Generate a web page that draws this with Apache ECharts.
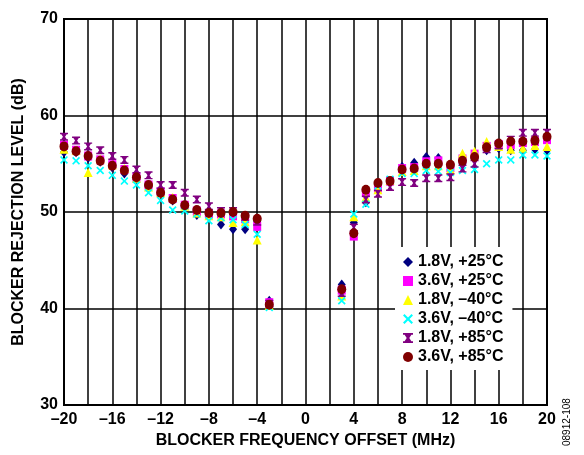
<!DOCTYPE html>
<html>
<head>
<meta charset="utf-8">
<script src="https://cdn.jsdelivr.net/npm/echarts@6/dist/echarts.min.js"></script>
<style>
  html, body { margin: 0; padding: 0; background: #fff; }
  #chart { width: 584px; height: 455px; }
</style>
</head>
<body>
<div id="chart"></div>
<script>
// Blocker frequency offsets (MHz)
const offsets = [-20,-19,-18,-17,-16,-15,-14,-13,-12,-11,-10,-9,-8,-7,-6,-5,-4,-3,
                 3,4,5,6,7,8,9,10,11,12,13,14,15,16,17,18,19,20];

// Blocker rejection level (dB) per supply/temperature condition
const v18_p25 = [56.2,56.2,55.6,55.2,54.6,54.0,53.4,52.6,52.0,51.2,50.6,49.7,49.5,48.7,48.2,48.2,49.0,40.8,
                 42.5,48.9,51.0,52.5,53.0,54.7,55.1,55.7,55.6,54.6,55.0,55.5,56.4,56.6,56.4,56.4,56.5,56.4];
const v36_p25 = [56.9,56.4,55.8,55.4,54.9,54.4,53.6,52.8,52.1,51.4,50.7,50.1,49.8,49.8,49.6,49.3,48.5,40.6,
                 41.9,47.5,52.0,52.5,53.2,54.5,54.6,55.2,55.3,54.6,55.5,56.0,56.8,57.0,57.0,57.2,57.3,57.5];
const v18_m40 = [56.5,56.4,54.1,55.5,54.9,54.5,53.5,52.6,52.0,51.5,50.6,49.9,49.6,49.5,48.9,49.0,47.1,40.3,
                 41.3,49.5,51.5,52.3,53.3,54.2,54.3,54.8,54.8,54.4,56.1,56.3,57.3,56.8,56.5,56.6,56.9,56.8];
const v36_m40 = [55.4,55.3,54.8,54.3,53.8,53.2,52.8,52.0,51.2,50.2,50.1,49.8,49.1,49.4,49.2,48.7,47.7,40.1,
                 40.8,49.8,50.8,52.7,53.4,54.0,54.0,54.3,54.2,54.1,54.3,54.4,55.0,55.4,55.4,55.9,55.9,55.8];
const v18_p85 = [57.8,57.4,56.8,56.4,55.8,55.4,54.4,53.8,52.8,52.8,52.0,51.3,50.6,50.1,50.1,49.5,49.0,40.5,
                 41.6,48.4,51.3,51.9,52.6,53.1,53.0,53.5,53.5,53.6,54.5,55.0,56.5,56.9,57.5,58.2,58.2,58.2];
const v36_p85 = [56.8,56.3,55.8,55.3,54.8,54.3,53.6,52.8,52.0,51.3,50.7,50.2,49.9,49.9,50.0,49.6,49.3,40.4,
                 42.0,47.8,52.3,53.0,53.2,54.4,54.5,55.0,55.0,54.9,55.3,55.7,56.7,57.1,57.3,57.3,57.4,57.8];

const seriesNames = ['1.8V, +25°C', '3.6V, +25°C', '1.8V, \u201340°C', '3.6V, \u201340°C', '1.8V, +85°C', '3.6V, +85°C'];

// Marker shapes
const crossPath = 'path://M0,1.5 L1.5,0 L5,3.5 L8.5,0 L10,1.5 L6.5,5 L10,8.5 L8.5,10 L5,6.5 L1.5,10 L0,8.5 L3.5,5 Z';
const starPath = 'path://M0,0 L10,0 L10,1.8 L8.4,1.8 L6.3,5 L8.4,8.2 L10,8.2 L10,10 L0,10 L0,8.2 L1.6,8.2 L3.7,5 L1.6,1.8 L0,1.8 Z';

const styles = [
  { data: v18_p25, color: '#000080', symbol: 'diamond', size: [8, 10] },
  { data: v36_p25, color: '#ff00ff', symbol: 'rect', size: [8, 9] },
  { data: v18_m40, color: '#ffff00', symbol: 'triangle', size: [9, 9] },
  { data: v36_m40, color: '#00ffff', symbol: crossPath, size: [8, 8] },
  { data: v18_p85, color: '#800080', symbol: starPath, size: [8, 8] },
  { data: v36_p85, color: '#800000', symbol: 'circle', size: [9, 10] }
];

const FONT = '"Liberation Sans", Arial, sans-serif';
const dash = v => (v < 0 ? '\u2013' + Math.abs(v) : String(v));

const chart = echarts.init(document.getElementById('chart'), null, { renderer: 'canvas' });

chart.setOption({
  animation: false,
  backgroundColor: '#fff',
  grid: {
    left: 64, right: 37, top: 19, bottom: 50,
    outerBoundsMode: 'none', containLabel: false,
    show: true, borderColor: '#000', borderWidth: 2, z: 3
  },
  xAxis: {
    type: 'value', min: -20, max: 20, interval: 2,
    name: 'BLOCKER FREQUENCY OFFSET (MHz)', nameLocation: 'middle', nameGap: 27,
    nameTextStyle: { fontFamily: FONT, fontWeight: 'bold', fontSize: 16, color: '#000' },
    axisLine: { show: false },
    axisTick: { show: false },
    axisLabel: {
      fontFamily: FONT, fontWeight: 'bold', fontSize: 16, color: '#000', margin: 7,
      formatter: v => (v % 4 === 0 ? dash(v) : '')
    },
    splitLine: { show: true, lineStyle: { color: '#000', width: 1.5 } }
  },
  yAxis: {
    type: 'value', min: 30, max: 70, interval: 10,
    name: 'BLOCKER REJECTION LEVEL (dB)', nameLocation: 'middle', nameGap: 37,
    nameTextStyle: { fontFamily: FONT, fontWeight: 'bold', fontSize: 16, color: '#000' },
    axisLine: { show: false },
    axisTick: { show: false },
    axisLabel: { fontFamily: FONT, fontWeight: 'bold', fontSize: 16, color: '#000', margin: 6 },
    splitLine: { show: true, lineStyle: { color: '#000', width: 1.5 } }
  },
  legend: {
    orient: 'vertical', left: 395, top: 247,
    backgroundColor: '#fff', padding: [7, 9, 5, 8],
    itemWidth: 10, itemHeight: 10, itemGap: 3, itemTextGap: 8,
    textStyle: { fontFamily: FONT, fontWeight: 'bold', fontSize: 16, color: '#000' },
    data: seriesNames
  },
  series: styles.map((s, i) => ({
    name: seriesNames[i],
    type: 'scatter',
    symbol: s.symbol,
    symbolSize: s.size,
    itemStyle: { color: s.color, opacity: 1 },
    z: 4 + i,
    data: offsets.map((x, k) => [x, s.data[k]])
  })),
  graphic: [{
    type: 'text', x: 567, y: 446, rotation: Math.PI / 2,
    style: { text: '08912-108', fontFamily: FONT, fontSize: 10, fill: '#000', textVerticalAlign: 'middle' }
  }]
});
</script>
</body>
</html>
